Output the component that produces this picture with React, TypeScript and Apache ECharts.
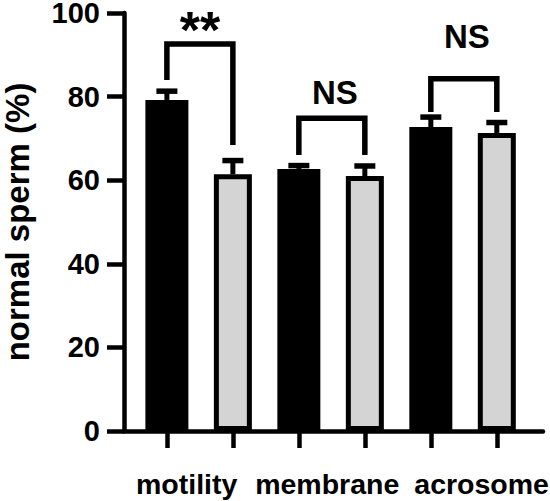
import React, { useEffect, useRef } from "react";
import * as echarts from "echarts";

// ---- data ----
const categories = ["motility", "membrane", "acrosome"];
const controlMeans = [79.2, 62.7, 72.7];
const controlErr = [2.1, 0.8, 2.4];
const treatedMeans = [61.4, 61.0, 71.3];
const treatedErr = [3.3, 2.4, 2.5];
const yTicks = [0, 20, 40, 60, 80, 100];
const sigLabels = ["**", "NS", "NS"];
const bracketTop = [92.6, 74.8, 84.3];
const bracketLeftEnd = [84.0, 66.0, 76.3];
const bracketRightEnd = [68.4, 66.0, 76.3];
const sigLabelY = [96.0, 80.9, 94.3];
const categoryLabelPos = [1.3, 3.43, 5.77];

const FONT = "'Liberation Sans', Arial, Helvetica, sans-serif";

export default function App() {
  const ref = useRef<HTMLDivElement>(null);

  useEffect(() => {
    if (!ref.current) return;
    const chart = echarts.init(ref.current, null, { renderer: "svg" });

    const barPositions = categories.map((_, i) => 2 * i + 1);
    const blackData = controlMeans.map((v, i) => [barPositions[i], v]);
    const grayData = treatedMeans.map((v, i) => [barPositions[i] + 1, v]);
    const errData: number[][] = [];
    categories.forEach((_, i) => {
      errData.push([barPositions[i], controlMeans[i], controlMeans[i] + controlErr[i]]);
      errData.push([barPositions[i] + 1, treatedMeans[i], treatedMeans[i] + treatedErr[i]]);
    });
    const bracketData = categories.map((_, i) => [
      barPositions[i],
      barPositions[i] + 1,
      bracketTop[i],
      bracketLeftEnd[i],
      bracketRightEnd[i],
      sigLabelY[i],
    ]);

    const xMin = 0.35;
    const xMax = 6.7;

    const labelFor = (v: number) => {
      const k = categoryLabelPos.findIndex((p) => Math.abs(p - v) < 1e-6);
      return k >= 0 ? categories[k] : "";
    };

    const option: any = {
      animation: false,
      backgroundColor: "#fff",
      grid: { left: 124, right: 7, top: 13, bottom: 70, containLabel: false, outerBoundsMode: "none" },
      xAxis: [
        {
          type: "value",
          min: xMin,
          max: xMax,
          axisLine: { show: true, lineStyle: { color: "#000", width: 4.5 } },
          axisTick: {
            show: true,
            length: 17,
            lineStyle: { color: "#000", width: 4.5 },
            customValues: [1, 2, 3, 4, 5, 6],
          },
          axisLabel: {
            show: true,
            customValues: categoryLabelPos,
            formatter: (v: number) => labelFor(v),
            margin: 38,
            fontSize: 28.5,
            fontWeight: "bold",
            color: "#000",
            fontFamily: FONT,
            hideOverlap: false,
          },
          splitLine: { show: false },
        },
        { type: "value", min: xMin, max: xMax, show: false },
      ],
      yAxis: {
        type: "value",
        min: yTicks[0],
        max: yTicks[yTicks.length - 1],
        interval: yTicks[1] - yTicks[0],
        axisLine: { show: true, lineStyle: { color: "#000", width: 4.5 } },
        axisTick: { show: true, length: 17, lineStyle: { color: "#000", width: 4.5 } },
        axisLabel: {
          margin: 24,
          fontSize: 29,
          lineHeight: 24,
          fontWeight: "bold",
          color: "#000",
          fontFamily: FONT,
        },
        splitLine: { show: false },
        name: "normal sperm (%)",
        nameLocation: "middle",
        nameGap: 90,
        nameTextStyle: { fontSize: 33, fontWeight: "bold", color: "#000", fontFamily: FONT },
      },
      series: [
        {
          type: "bar",
          xAxisIndex: 0,
          data: blackData,
          barWidth: 43,
          itemStyle: { color: "#000" },
          z: 2,
        },
        {
          type: "bar",
          xAxisIndex: 1,
          data: grayData,
          barWidth: 38,
          itemStyle: { color: "#d4d4d4", borderColor: "#000", borderWidth: 5 },
          z: 2,
        },
        {
          type: "custom",
          xAxisIndex: 0,
          data: errData,
          encode: { x: 0, y: [1, 2] },
          z: 3,
          renderItem: (_p: any, api: any) => {
            const x = api.value(0);
            const base = api.coord([x, api.value(1)]);
            const top = api.coord([x, api.value(2)]);
            return {
              type: "group",
              children: [
                {
                  type: "line",
                  shape: { x1: base[0], y1: base[1], x2: top[0], y2: top[1] },
                  style: { stroke: "#000", lineWidth: 5 },
                },
                {
                  type: "line",
                  shape: { x1: top[0] - 10.5, y1: top[1], x2: top[0] + 10.5, y2: top[1] },
                  style: { stroke: "#000", lineWidth: 5.5 },
                },
              ],
            };
          },
        },
        {
          type: "custom",
          xAxisIndex: 0,
          data: bracketData,
          encode: { x: [0, 1], y: [2, 3, 4] },
          z: 3,
          renderItem: (p: any, api: any) => {
            const x1 = api.value(0);
            const x2 = api.value(1);
            const top = api.value(2);
            const pL = api.coord([x1, api.value(3)]);
            const pTL = api.coord([x1, top]);
            const pTR = api.coord([x2, top]);
            const pR = api.coord([x2, api.value(4)]);
            const lbl = api.coord([(x1 + x2) / 2, api.value(5)]);
            const text = sigLabels[p.dataIndex];
            const isStar = text === "**";
            return {
              type: "group",
              children: [
                {
                  type: "polyline",
                  shape: { points: [pL, pTL, pTR, pR] },
                  style: { stroke: "#000", lineWidth: 5.5, fill: "none", lineJoin: "miter" },
                },
                {
                  type: "text",
                  x: lbl[0] + (isStar ? 0 : 3),
                  y: lbl[1],
                  style: {
                    text,
                    fill: "#000",
                    fontSize: isStar ? 52 : 33,
                    lineHeight: isStar ? 30 : 33,
                    fontWeight: "bold",
                    fontFamily: FONT,
                    align: "center",
                    verticalAlign: "middle",
                  },
                },
              ],
            };
          },
        },
      ],
    };

    chart.setOption(option);
    return () => chart.dispose();
  }, []);

  return (
    <div
      ref={ref}
      style={{ position: "absolute", left: 0, top: 0, width: 550, height: 501, background: "#fff" }}
    />
  );
}
